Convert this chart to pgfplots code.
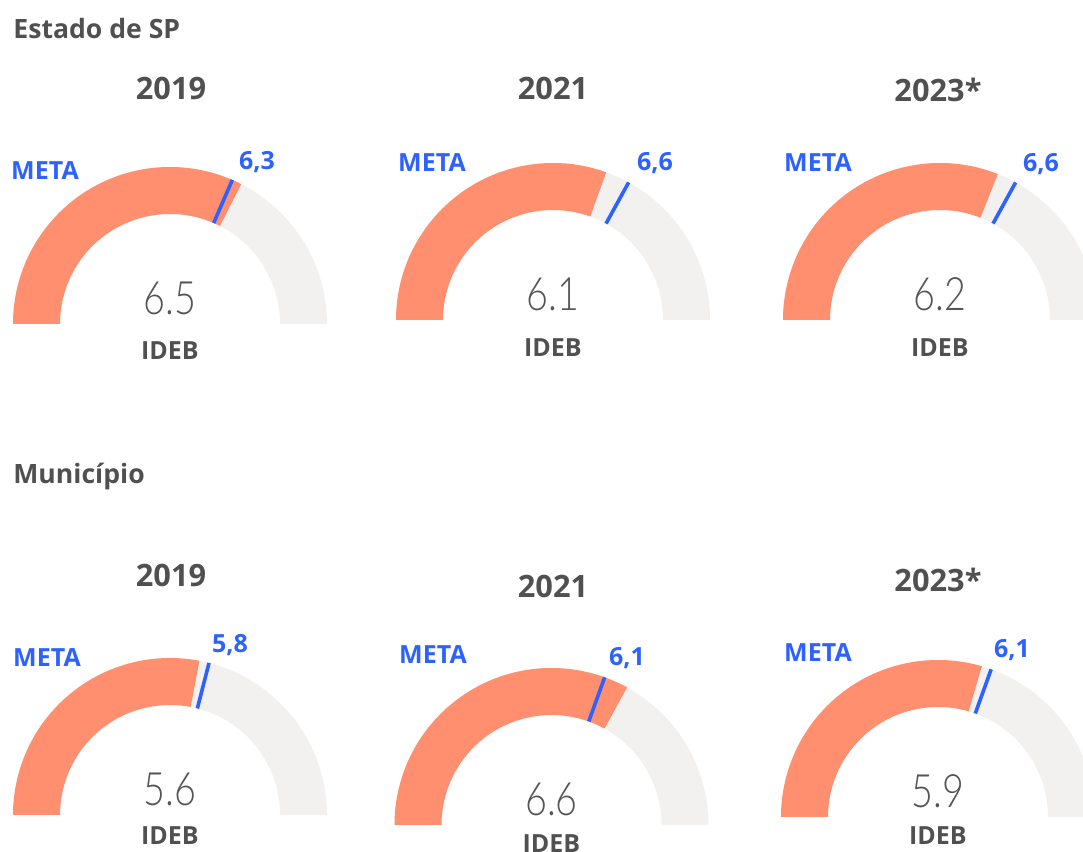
\documentclass[border=0pt]{standalone}
\usepackage{pgfplots}
\pgfplotsset{compat=1.18}
\usetikzlibrary{calc}
\usepackage{fontspec}
\setmainfont{Open Sans}
\newfontfamily\lightfont[FakeStretch=0.82]{Lato Light}
\definecolor{gorange}{HTML}{FF8F6E}
\definecolor{ggray}{HTML}{F2F1F0}
\definecolor{mblue}{HTML}{2D62FF}
\definecolor{tgray}{HTML}{505050}
\definecolor{vgray}{HTML}{555555}
% gauge: center x, center y (axis units = px), value, meta, IDEB label baseline ; scale 0..10
\newcommand{\gauge}[5]{%
 \fill[ggray] ($(axis cs:#1,#2)+(180:78.5pt)$) arc[start angle=180,end angle=0,radius=78.5pt]
   -- ($(axis cs:#1,#2)+(0:55pt)$) arc[start angle=0,end angle=180,radius=55pt] -- cycle;
 \fill[gorange] ($(axis cs:#1,#2)+(180:78.5pt)$) arc[start angle=180,end angle={180-18*#3},radius=78.5pt]
   -- ($(axis cs:#1,#2)+({180-18*#3}:55pt)$) arc[start angle={180-18*#3},end angle=180,radius=55pt] -- cycle;
 \draw[mblue,line width=1.8pt] ($(axis cs:#1,#2)+({180-18*#4}:55pt)$) -- ($(axis cs:#1,#2)+({180-18*#4}:78.5pt)$);
 \node[anchor=base,inner sep=0,text=vgray,font=\lightfont\fontsize{23}{26}\selectfont] at (axis cs:#1,{#2+9}) {#3};
 \node[anchor=base,inner sep=0,text=tgray,font=\bfseries\fontsize{12.5}{15}\selectfont] at (axis cs:#1,#5) {IDEB};
}
\newcommand{\yr}[3]{\node[anchor=base,inner sep=0,text=tgray,font=\bfseries\fontsize{15.4}{18}\selectfont] at (axis cs:#1,#2) {#3};}
\newcommand{\meta}[2]{\node[anchor=base,inner sep=0,text=mblue,font=\bfseries\fontsize{12.5}{15}\selectfont] at (axis cs:#1,#2) {META};}
\newcommand{\mval}[3]{\node[anchor=base,inner sep=0,text=mblue,font=\bfseries\fontsize{12.5}{15}\selectfont] at (axis cs:#1,#2) {#3};}
\begin{document}
\begin{tikzpicture}
\begin{axis}[name=ax,x=0.5pt,y=0.5pt,xmin=0,xmax=1083,ymin=-852,ymax=0,
  hide axis,scale only axis,clip=true]
\node[anchor=base west,inner sep=0,text=tgray,font=\bfseries\fontsize{13.3}{16}\selectfont] at (axis cs:13,-39) {Estado de SP};
\node[anchor=base west,inner sep=0,text=tgray,font=\bfseries\fontsize{13.3}{16}\selectfont] at (axis cs:13,-484) {Município};
% gauges: cx, cy, IDEB value, meta, IDEB label baseline
\gauge{170}{-324}{6.5}{6.3}{-360}
\gauge{553}{-320}{6.1}{6.6}{-357}
\gauge{940}{-320}{6.2}{6.6}{-357}
\gauge{170}{-815}{5.6}{5.8}{-845}
\gauge{551.5}{-825}{6.6}{6.1}{-853}
\gauge{938}{-817}{5.9}{6.1}{-845}
\yr{171}{-100}{2019}
\yr{553}{-100}{2021}
\yr{938}{-102}{2023*}
\yr{171}{-587}{2019}
\yr{553}{-598}{2021}
\yr{938}{-592}{2023*}
\meta{45}{-180}
\meta{432}{-172}
\meta{818}{-172}
\meta{47}{-667}
\meta{433}{-664}
\meta{818}{-662}
\mval{257}{-170}{6,3}
\mval{655}{-171}{6,6}
\mval{1041}{-172}{6,6}
\mval{230}{-653}{5,8}
\mval{627}{-666}{6,1}
\mval{1012}{-658}{6,1}
\end{axis}
\pgfresetboundingbox
\useasboundingbox (ax.south west) rectangle (ax.north east);
\end{tikzpicture}
\end{document}
